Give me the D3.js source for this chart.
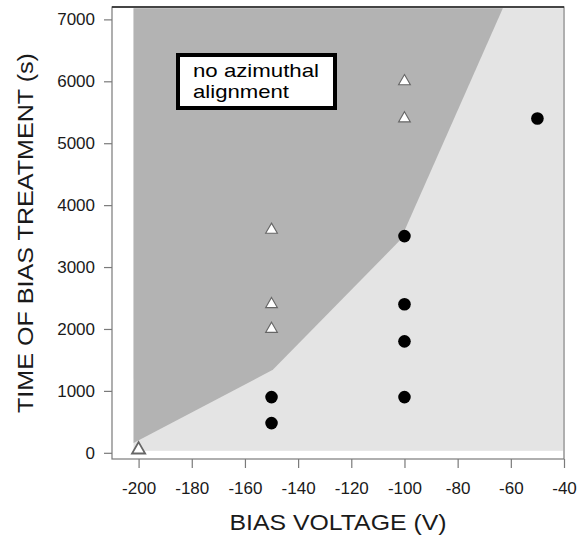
<!DOCTYPE html>
<html>
<head>
<meta charset="utf-8">
<script src="https://cdn.jsdelivr.net/npm/d3@7"></script>
<style>
body { margin: 0; background: #fff; }
text { font-family: "Liberation Sans", Arial, Helvetica, sans-serif; }
</style>
</head>
<body>
<div id="chart"></div>
<script>
// data
var alignedPoints = [   // filled dots
  [-150, 480], [-150, 900],
  [-100, 900], [-100, 1800], [-100, 2400], [-100, 3500],
  [-50, 5400]
];
var noAlignPoints = [   // open triangles
  [-200, 50],
  [-150, 2000], [-150, 2400], [-150, 3600],
  [-100, 5400], [-100, 6000]
];
// edge of the "no alignment" region, bottom-left to top
var boundary = [[-201.9, 160], [-149.5, 1340], [-101.5, 3440], [-63, 7180]];
var regionX = [-201.9, -40.4];
var regionY = [32, 7180];
var xTicks = [-200, -180, -160, -140, -120, -100, -80, -60, -40];
var yTicks = [0, 1000, 2000, 3000, 4000, 5000, 6000, 7000];

var width = 587, height = 539;
var margin = {left: 112, top: 7, right: 23, bottom: 80};

var svg = d3.select("#chart").append("svg")
  .attr("width", width)
  .attr("height", height);

var x = d3.scaleLinear().domain([-210, -40]).range([margin.left, width - margin.right]);
var y = d3.scaleLinear().domain([-100, 7200]).range([height - margin.bottom, margin.top]);

// light region (alignment)
svg.append("rect")
  .attr("x", x(regionX[0]))
  .attr("y", y(regionY[1]))
  .attr("width", x(regionX[1]) - x(regionX[0]))
  .attr("height", y(regionY[0]) - y(regionY[1]))
  .style("fill", "#e4e4e4");

// dark region (no alignment)
var darkPoly = [[regionX[0], regionY[1]]].concat(boundary);
svg.append("path")
  .attr("d", d3.line().x(function(d) { return x(d[0]); }).y(function(d) { return y(d[1]); })(darkPoly) + "Z")
  .style("fill", "#b3b3b3");

// frame
svg.append("rect")
  .attr("x", x.range()[0])
  .attr("y", y.range()[1])
  .attr("width", x.range()[1] - x.range()[0])
  .attr("height", y.range()[0] - y.range()[1])
  .style("fill", "none")
  .style("stroke", "#7a7a7a")
  .style("stroke-width", 1.2);
svg.append("line")
  .attr("x1", x.range()[0]).attr("x2", x.range()[1])
  .attr("y1", y.range()[1]).attr("y2", y.range()[1])
  .style("stroke", "#222")
  .style("stroke-width", 1.5);

// axes
var xAxis = svg.append("g")
  .attr("transform", "translate(0," + y.range()[0] + ")")
  .call(d3.axisBottom(x).tickValues(xTicks).tickSize(9).tickPadding(14).tickFormat(d3.format("d")));
var yAxis = svg.append("g")
  .attr("transform", "translate(" + x.range()[0] + ",0)")
  .call(d3.axisLeft(y).tickValues(yTicks).tickSize(8).tickPadding(9).tickFormat(d3.format("d")));

[xAxis, yAxis].forEach(function(ax) {
  ax.select(".domain").remove();
  ax.selectAll("line").style("stroke", "#7a7a7a").style("stroke-width", 1.2);
  ax.selectAll("text")
    .style("font-family", "'Liberation Sans', Arial, sans-serif")
    .style("font-size", "17px")
    .style("fill", "#1a1a1a");
});
// use real minus-free hyphen like the original
xAxis.selectAll("text").text(function(d) { return String(d).replace("\u2212", "-"); });

// points
svg.selectAll(".dot")
  .data(alignedPoints)
  .enter().append("circle")
  .attr("class", "dot")
  .attr("cx", function(d) { return x(d[0]); })
  .attr("cy", function(d) { return y(d[1]); })
  .attr("r", 6.3)
  .style("fill", "#000");

svg.selectAll(".tri")
  .data(noAlignPoints)
  .enter().append("path")
  .attr("class", "tri")
  .attr("d", function(d, i) { return d3.symbol().type(d3.symbolTriangle).size(i === 0 ? 75 : 60)(); })
  .attr("transform", function(d) { return "translate(" + x(d[0]) + "," + y(d[1]) + ")"; })
  .style("fill", "#fff")
  .style("stroke", "#666")
  .style("stroke-width", function(d, i) { return i === 0 ? 1.8 : 1.1; });

// annotation box
var note = svg.append("g");
note.append("rect")
  .attr("x", 178).attr("y", 55)
  .attr("width", 157).attr("height", 53)
  .style("fill", "#fff")
  .style("stroke", "#000")
  .style("stroke-width", 4);
note.append("text")
  .attr("x", 193).attr("y", 77)
  .attr("textLength", 126).attr("lengthAdjust", "spacingAndGlyphs")
  .style("font-size", "19px")
  .text("no azimuthal");
note.append("text")
  .attr("x", 193).attr("y", 98)
  .attr("textLength", 96).attr("lengthAdjust", "spacingAndGlyphs")
  .style("font-size", "19px")
  .text("alignment");

// axis titles
svg.append("text")
  .attr("x", (x.range()[0] + x.range()[1]) / 2)
  .attr("y", 530)
  .attr("text-anchor", "middle")
  .attr("textLength", 217).attr("lengthAdjust", "spacingAndGlyphs")
  .style("font-size", "22px")
  .style("fill", "#1a1a1a")
  .text("BIAS VOLTAGE (V)");

svg.append("text")
  .attr("transform", "translate(33," + (y.range()[0] + y.range()[1]) / 2 + ") rotate(-90)")
  .attr("text-anchor", "middle")
  .attr("textLength", 360).attr("lengthAdjust", "spacingAndGlyphs")
  .style("font-size", "22px")
  .style("fill", "#1a1a1a")
  .text("TIME OF BIAS TREATMENT (s)");
</script>
</body>
</html>
